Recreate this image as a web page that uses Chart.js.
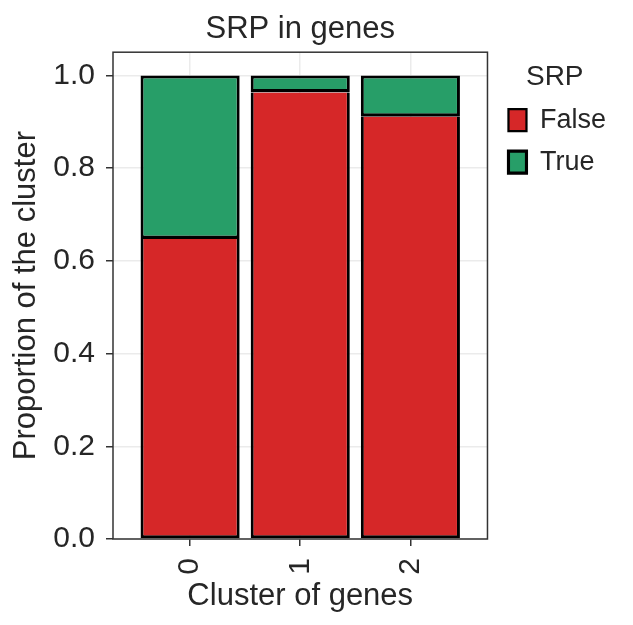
<!DOCTYPE html>
<html>
<head>
<meta charset="utf-8">
<title>SRP in genes</title>
<script src="https://cdn.jsdelivr.net/npm/chart.js@4/dist/chart.umd.min.js"></script>
<style>
  html, body { margin: 0; padding: 0; background: #fff; }
  #chart { display: block; }
</style>
</head>
<body>
<canvas id="chart" width="633" height="625"></canvas>
<script>
// cluster positions and their tick labels
const clusters = [0, 1, 2];
const clusterLabels = ['0', '1', '2'];
// proportion of each cluster (stacked)
const falseValues = [0.647, 0.963, 0.911];
const trueValues = [0.353, 0.037, 0.089];
const yTicks = [0, 0.2, 0.4, 0.6, 0.8, 1.0];

const textColor = '#262626';
const frameColor = '#333333';
const font = 'Liberation Sans, Arial, sans-serif';

// box round the plot area, like the matplotlib frame
const frame = {
  id: 'frame',
  afterLayout(chart) {
    // nudge the legend a bit away from the plot
    chart.legend.left += 6;
    chart.legend.right += 6;
  },
  afterDraw(chart) {
    const { ctx, chartArea: a } = chart;
    ctx.save();
    ctx.strokeStyle = frameColor;
    ctx.lineWidth = 1.5;
    ctx.strokeRect(a.left, a.top, a.right - a.left, a.bottom - a.top);
    ctx.restore();
  }
};

const toPoints = vals => clusters.map((c, i) => ({ x: c, y: vals[i] }));

new Chart(document.getElementById('chart'), {
  type: 'bar',
  data: {
    datasets: [
      {
        label: 'False', data: toPoints(falseValues), backgroundColor: '#d62728',
        borderWidth: { top: 0, left: 3, right: 3, bottom: 3 }
      },
      {
        label: 'True', data: toPoints(trueValues), backgroundColor: '#279e68',
        borderWidth: { top: 3, left: 3, right: 3, bottom: 3.5 }
      }
    ]
  },
  options: {
    responsive: false,
    animation: false,
    devicePixelRatio: 1,
    layout: { padding: { left: 0, right: 23, top: 0, bottom: 0 } },
    datasets: {
      bar: {
        borderColor: '#000',
        borderSkipped: false,
        inflateAmount: 0,
        categoryPercentage: 1,
        barPercentage: 0.9
      }
    },
    plugins: {
      tooltip: { enabled: false },
      title: {
        display: true,
        text: 'SRP in genes',
        fullSize: false,
        color: textColor,
        font: { family: font, size: 31, weight: 'normal' },
        padding: { top: 11, bottom: 4 }
      },
      legend: {
        position: 'right',
        align: 'start',
        title: {
          display: true,
          text: 'SRP',
          color: textColor,
          font: { family: font, size: 28 },
          padding: { top: 63, bottom: -5 }
        },
        labels: {
          color: textColor,
          font: { family: font, size: 27 },
          boxWidth: 18,
          boxHeight: 22,
          padding: 15
        }
      }
    },
    scales: {
      x: {
        type: 'linear',
        min: -0.7,
        max: 2.7,
        offset: false,
        stacked: true,
        afterBuildTicks: s => { s.ticks = clusters.map(v => ({ value: v })); },
        afterFit: s => { s.height = 86; },
        ticks: {
          callback: (v, i) => clusterLabels[i],
          color: textColor,
          font: { family: font, size: 30 },
          minRotation: 90,
          maxRotation: 90,
          padding: 12
        },
        grid: {
          offset: false,
          color: '#ebebeb',
          lineWidth: 1.5,
          tickColor: frameColor,
          tickLength: 7,
          tickWidth: 1.5
        },
        border: { display: false },
        title: {
          display: true,
          text: 'Cluster of genes',
          color: textColor,
          font: { family: font, size: 31 },
          padding: { top: 0, bottom: 10 }
        }
      },
      y: {
        min: 0,
        max: 1.05,
        stacked: true,
        afterBuildTicks: s => { s.ticks = yTicks.map(v => ({ value: v })); },
        afterFit: s => { s.width = 113; },
        ticks: {
          callback: v => v.toFixed(1),
          color: textColor,
          font: { family: font, size: 30 },
          padding: 11
        },
        grid: {
          color: '#ebebeb',
          lineWidth: 1.5,
          tickColor: frameColor,
          tickLength: 7,
          tickWidth: 1.5
        },
        border: { display: false },
        title: {
          display: true,
          text: 'Proportion of the cluster',
          color: textColor,
          font: { family: font, size: 31 },
          padding: { top: 8, bottom: 0 }
        }
      }
    }
  },
  plugins: [frame]
});
</script>
</body>
</html>
